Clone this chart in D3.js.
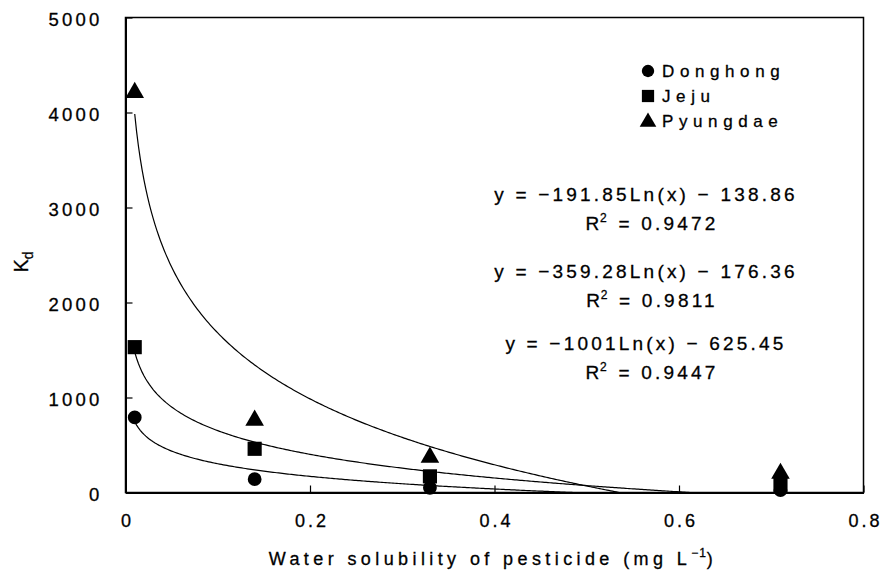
<!DOCTYPE html>
<html><head><meta charset="utf-8">
<script src="https://cdn.jsdelivr.net/npm/d3@7"></script>
<style>
body{margin:0;background:#fff;}
svg{display:block;}
text{font-family:"Liberation Sans",Arial,sans-serif;fill:#000;stroke:#000;stroke-width:0.3;}
</style></head>
<body>
<svg id="c" width="885" height="575"></svg>
<script>
// ---- data ----
const solubility = [0.01, 0.14, 0.33, 0.71];
const donghong = [790, 140, 50, 25];
const jeju = [1530, 460, 170, 80];
const pyungdae = [4210, 760, 370, 200];
const seriesNames = ["Donghong", "Jeju", "Pyungdae"];
const fitSlope = [-191.85, -359.28, -1001];
const fitIntercept = [-138.86, -176.36, -625.45];
const fitLabels = [["y = −191.85Ln(x) − 138.86", "0.9472"],
                   ["y = −359.28Ln(x) − 176.36", "0.9811"],
                   ["y = −1001Ln(x) − 625.45", "0.9447"]];
const xTicks = [0, 0.2, 0.4, 0.6, 0.8];
const yTicks = [0, 1000, 2000, 3000, 4000, 5000];

const svg = d3.select("#c");
const x = d3.scaleLinear().domain([0, 0.8]).range([125.5, 863.5]);
const y = d3.scaleLinear().domain([0, 5000]).range([492.5, 17.5]);

// plot frame
svg.append("rect").attr("x", x(0)).attr("y", y(5000)).attr("width", x(0.8) - x(0)).attr("height", y(0) - y(5000))
  .attr("fill", "none").attr("stroke", "#000").attr("stroke-width", 1.5);

// axes
const xAxis = d3.axisBottom(x).tickValues(xTicks).tickSizeInner(-7).tickSizeOuter(0).tickPadding(22)
  .tickFormat(d => d === 0 ? "0" : d3.format(".1f")(d));
const yAxis = d3.axisLeft(y).tickValues(yTicks).tickSizeInner(-7).tickSizeOuter(0).tickPadding(23)
  .tickFormat(d3.format("d"));

const gx = svg.append("g").attr("transform", `translate(0,${y(0)})`).call(xAxis);
const gy = svg.append("g").attr("transform", `translate(${x(0)},0)`).call(yAxis);
[gx, gy].forEach(g => {
  g.select(".domain").attr("stroke", "#000").attr("stroke-width", 2);
  g.selectAll(".tick line").attr("stroke", "#000").attr("stroke-width", 1.2);
  g.selectAll(".tick text").attr("font-size", 18).attr("font-family", "Liberation Sans, Arial, sans-serif");
});
gx.selectAll(".tick text").attr("letter-spacing", 3).attr("dx", 1.5);
gy.selectAll(".tick text").attr("letter-spacing", 3.2).attr("font-size", 18.5).attr("dy", "0.45em");

// trend curves
const line = d3.line().x(d => x(d[0])).y(d => y(d[1]));
fitSlope.forEach((a, i) => {
  const b = fitIntercept[i];
  const xEnd = Math.min(0.71, Math.exp(-b / a));
  const pts = d3.range(0.01, xEnd, 0.002).map(v => [v, a * Math.log(v) + b]);
  pts.push([xEnd, Math.max(0, a * Math.log(xEnd) + b)]);
  svg.append("path").attr("d", line(pts)).attr("fill", "none").attr("stroke", "#000").attr("stroke-width", 1.2);
});

// markers
const symbols = [d3.symbolCircle, d3.symbolSquare, d3.symbolTriangle];
const sizes = [150, 200, 150];
const allSeries = [donghong, jeju, pyungdae];
allSeries.forEach((vals, i) => {
  svg.append("g").selectAll("path").data(vals).join("path")
    .attr("d", d3.symbol().type(symbols[i]).size(sizes[i]))
    .attr("transform", (d, j) => `translate(${x(solubility[j])},${y(d)})`)
    .attr("fill", "#000");
});

// legend
const lg = svg.append("g");
seriesNames.forEach((n, i) => {
  const yy = 71 + i * 25;
  lg.append("path").attr("d", d3.symbol().type(symbols[i]).size(i === 1 ? 150 : 120))
    .attr("transform", `translate(648,${yy + (i === 2 ? 1 : 0)})`).attr("fill", "#000");
  lg.append("text").attr("x", 662).attr("y", yy + 6).attr("font-size", 17).attr("letter-spacing", 5.6).text(n);
});

// equations
const eqY = [[201, 230], [278, 307], [350, 379]];
fitLabels.forEach((l, i) => {
  svg.append("text").attr("x", 646).attr("y", eqY[i][0]).attr("text-anchor", "middle")
    .attr("font-size", 19).attr("letter-spacing", 3.2).text(l[0]);
  const t = svg.append("text").attr("x", 652).attr("y", eqY[i][1]).attr("text-anchor", "middle")
    .attr("font-size", 19).attr("letter-spacing", 3.2);
  t.append("tspan").attr("letter-spacing", 0.8).text("R");
  t.append("tspan").attr("dy", -8).attr("font-size", 12).text("2");
  t.append("tspan").attr("dy", 8).text(" = " + l[1]);
});

// axis titles
const xt = svg.append("text").attr("x", 493).attr("y", 565).attr("text-anchor", "middle")
  .attr("font-size", 18).attr("letter-spacing", 4.4);
xt.append("tspan").text("Water solubility of pesticide (mg L");
xt.append("tspan").attr("dy", -8).attr("font-size", 12).attr("letter-spacing", 1).text("−1");
xt.append("tspan").attr("dy", 8).text(")");

const yt = svg.append("text").attr("transform", "translate(28,262) rotate(-90)").attr("text-anchor", "middle")
  .attr("font-size", 20);
yt.append("tspan").text("K");
yt.append("tspan").attr("dy", 5).attr("font-size", 14).text("d");
</script>
</body></html>
